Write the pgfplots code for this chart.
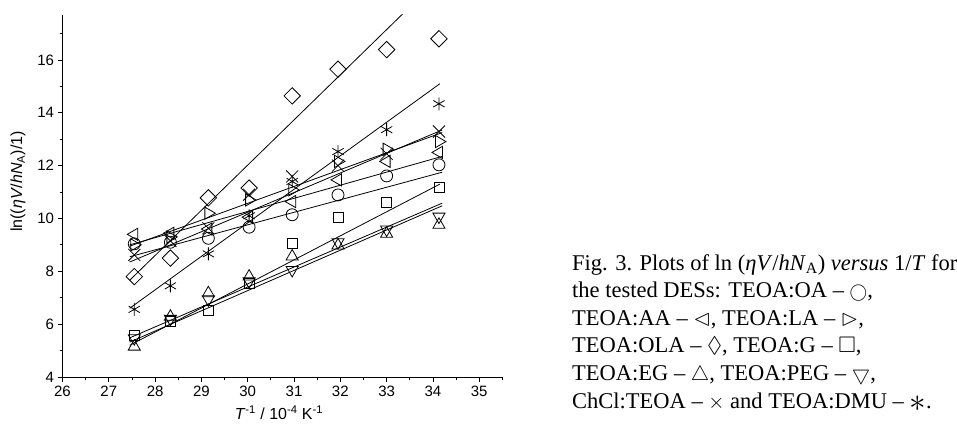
\documentclass[border=0pt]{standalone}
\usepackage{fontspec}
\setmainfont{Liberation Sans}
\newfontfamily\capfont{Liberation Serif}
\usepackage{amssymb}
\usepackage{graphicx}
\usepackage{pgfplots}
\usepackage{pgfplotstable}
\pgfplotsset{compat=1.18}

\pgfplotstableread{
x      OA    AA    LA    OLA   G     EG    PEG   ChCl  DMU
27.55  9.04  9.40  9.00  7.80  5.59  5.15  5.47  8.62  6.56
28.33  9.10  9.44  9.30  8.50  6.10  6.28  6.20  9.15  7.45
29.15  9.25  9.60  10.20 10.78 6.51  7.17  6.94  9.63  8.66
30.03  9.67  10.05 10.70 11.15 7.56  7.80  7.62  10.90 10.10
30.96  10.14 10.64 11.08 14.64 9.06  8.56  8.05  11.59 11.40
31.95  10.89 11.46 12.16 15.65 10.05 8.98  9.10  12.00 12.53
33.00  11.61 12.16 12.62 16.39 10.60 9.42  9.58  12.45 13.36
34.13  12.03 12.50 12.91 16.80 11.19 9.76  10.07 13.29 14.34
}\datatable

\begin{document}
\begin{tikzpicture}[x=1pt,y=1pt]
\path[use as bounding box] (0,0) rectangle (957,423);
\begin{axis}[
  at={(62.5pt,46pt)}, anchor=south west,
  scale only axis, width=439.9pt, height=362pt,
  xmin=26, xmax=35.5, ymin=4, ymax=17.7,
  axis x line*=bottom, axis y line*=left,
  axis line style={-, line width=0.9pt},
  xtick={26,...,35}, ytick={4,6,...,16},
  minor xtick={26.5,27.5,...,35.5}, minor ytick={5,7,...,17},
  tick align=outside,
  major tick length=5pt, minor tick length=3pt,
  every tick/.style={line width=0.8pt, black},
  ticklabel style={font=\fontsize{15}{17}\selectfont},
  /pgf/number format/assume math mode=true,
  xlabel={\textit{T}\textsuperscript{-1} / 10\textsuperscript{-4} K\textsuperscript{-1}},
  ylabel={ln((\textit{ηV}/\textit{hN}\textsubscript{A})/1)},
  xlabel style={at={(axis description cs:0.492,-0.0995)}, anchor=center, font=\fontsize{16}{18}\selectfont},
  ylabel style={at={(axis description cs:-0.101,0.54)}, anchor=center, font=\fontsize{16}{18}\selectfont},
  every axis plot/.append style={black, line width=0.8pt},
]
% fitted lines
\addplot[no marks] coordinates {(27.45,8.55) (34.2,11.75)};
\addplot[no marks] coordinates {(27.45,9.0) (34.2,12.35)};
\addplot[no marks] coordinates {(27.45,8.95) (34.2,13.25)};
\addplot[no marks] coordinates {(27.45,7.66) (34.2,19.2)};
\addplot[no marks] coordinates {(27.45,5.2) (34.15,11.3)};
\addplot[no marks] coordinates {(27.45,5.32) (34.2,10.48)};
\addplot[no marks] coordinates {(27.45,5.48) (34.2,10.58)};
\addplot[no marks] coordinates {(27.45,8.35) (34.2,13.35)};
\addplot[no marks] coordinates {(27.45,6.6) (34.15,15.1)};
% data
\addplot[only marks, mark=o, mark size=6pt] table[x=x,y=OA] {\datatable};
\addplot[only marks, mark=triangle, mark size=7pt, mark options={rotate=90}] table[x=x,y=AA] {\datatable};
\addplot[only marks, mark=triangle, mark size=7pt, mark options={rotate=-90}] table[x=x,y=LA] {\datatable};
\addplot[only marks, mark=square, mark size=5.8pt, mark options={rotate=45}] table[x=x,y=OLA] {\datatable};
\addplot[only marks, mark=square, mark size=5pt] table[x=x,y=G] {\datatable};
\addplot[only marks, mark=triangle, mark size=7pt] table[x=x,y=EG] {\datatable};
\addplot[only marks, mark=triangle, mark size=7pt, mark options={rotate=180}] table[x=x,y=PEG] {\datatable};
\addplot[only marks, mark=x, mark size=8.5pt] table[x=x,y=ChCl] {\datatable};
\addplot[only marks, mark=asterisk, mark size=6.5pt] table[x=x,y=DMU] {\datatable};
\end{axis}
\begin{scope}[every node/.style={anchor=base west, inner sep=0pt, font=\capfont\fontsize{22.5}{27}\selectfont}]
\node at (572,153) {Fig. 3. Plots of ln (\textit{ηV}/\textit{hN}\textsubscript{A}) \textit{versus} 1/\textit{T} for};
\node at (572,125.4) {the tested DESs: TEOA:OA – \scalebox{0.85}{$\bigcirc$},};
\node at (572,97.8) {TEOA:AA – $\vartriangleleft$, TEOA:LA – $\vartriangleright$,};
\node at (572,70.2) {TEOA:OLA – $\Diamond$, TEOA:G – $\Box$,};
\node at (572,42.6) {TEOA:EG – $\triangle$, TEOA:PEG – $\bigtriangledown$,};
\node at (572,15) {ChCl:TEOA – $\times$ and TEOA:DMU – \raisebox{-0.3ex}{\scalebox{1.6}{$\ast$}}.};
\end{scope}
\end{tikzpicture}
\end{document}
